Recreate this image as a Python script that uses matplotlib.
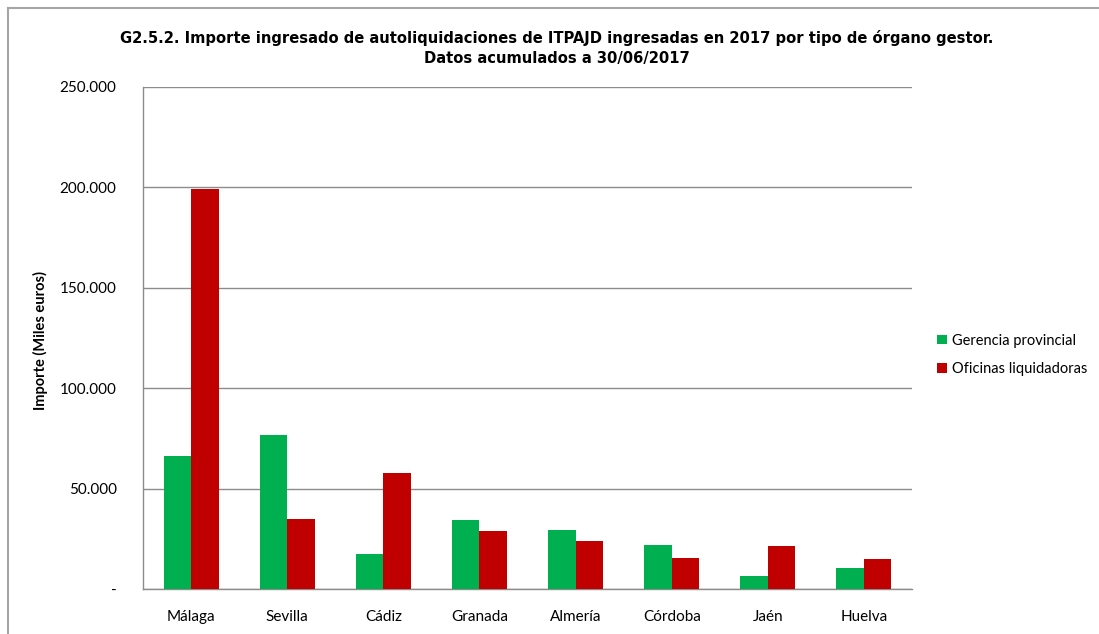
import matplotlib
matplotlib.use("Agg")
import matplotlib.pyplot as plt
from matplotlib.lines import Line2D
from matplotlib.patches import Patch
from matplotlib.ticker import FuncFormatter, MultipleLocator
import numpy as np

provincias = ["Málaga", "Sevilla", "Cádiz", "Granada", "Almería", "Córdoba", "Jaén", "Huelva"]
gerencia = [66000, 76900, 17500, 34400, 29400, 22100, 6500, 10500]
oficinas = [199200, 34900, 57900, 28800, 24000, 15300, 21300, 14800]
series_labels = ["Gerencia provincial", "Oficinas liquidadoras"]
titulo = ("G2.5.2. Importe ingresado de autoliquidaciones de ITPAJD ingresadas en 2017 por tipo de órgano gestor.\n"
          "Datos acumulados a 30/06/2017")
eje_y = "Importe (Miles euros)"

VERDE = "#00B050"
ROJO = "#C00000"
GRIS = "#8C8C8C"
TXT = ["Lato", "DejaVu Sans"]

fig = plt.figure(figsize=(10.99, 6.34), dpi=100)
ax = fig.add_axes([143 / 1099, 1 - 589 / 634, (912 - 143) / 1099, (589 - 87) / 634])

x = np.arange(len(provincias))
w = 1 / 3.5
ax.bar(x - w / 2, gerencia, width=w, color=VERDE, label=series_labels[0], zorder=3)
ax.bar(x + w / 2, oficinas, width=w, color=ROJO, label=series_labels[1], zorder=3)

ax.set_xlim(-0.5, len(provincias) - 0.5)
ax.set_ylim(0, 250000)
ax.yaxis.set_major_locator(MultipleLocator(50000))


def miles(v, _):
    if v == 0:
        return "-"
    return f"{int(v):,}".replace(",", ".")


ax.yaxis.set_major_formatter(FuncFormatter(miles))
ax.grid(axis="y", color=GRIS, linewidth=1, zorder=0)
for s in ["top", "right"]:
    ax.spines[s].set_visible(False)
for s in ["left", "bottom"]:
    ax.spines[s].set_color(GRIS)
    ax.spines[s].set_linewidth(1)
ax.tick_params(axis="both", length=0, labelsize=11, colors="black")
ax.tick_params(axis="y", pad=19)
ax.tick_params(axis="x", pad=15)
ax.set_xticks(x)
ax.set_xticklabels(provincias, fontfamily=TXT)
for lab in ax.get_yticklabels():
    lab.set_fontfamily(TXT)

fig.text(40 / 1099, 1 - 340 / 634, eje_y, rotation=90, ha="center", va="center",
         fontsize=10.5, fontweight="bold", family=TXT)

fig.text(557 / 1099, 1 - 48 / 634, titulo, ha="center", va="center",
         fontsize=11.8, fontweight="bold", family="DejaVu Sans", fontstretch="condensed",
         linespacing=1.5)

handles = [Patch(facecolor=VERDE), Patch(facecolor=ROJO)]
fig.legend(handles, series_labels, loc="center left", bbox_to_anchor=(924 / 1099, 1 - 355 / 634),
           frameon=False, prop={"family": TXT, "size": 10.5}, handlelength=0.65, handleheight=0.65,
           handletextpad=0.35, labelspacing=1.0)

# outer frame of the chart area
fig.add_artist(Line2D([7.5 / 1099, 7.5 / 1099], [0, 1 - 8 / 634], color="#A6A6A6", linewidth=1.5,
                      transform=fig.transFigure))
fig.add_artist(Line2D([7.5 / 1099, 1], [1 - 8 / 634, 1 - 8 / 634], color="#A6A6A6", linewidth=1.5,
                      transform=fig.transFigure))

fig.savefig("out.png", dpi=100)
